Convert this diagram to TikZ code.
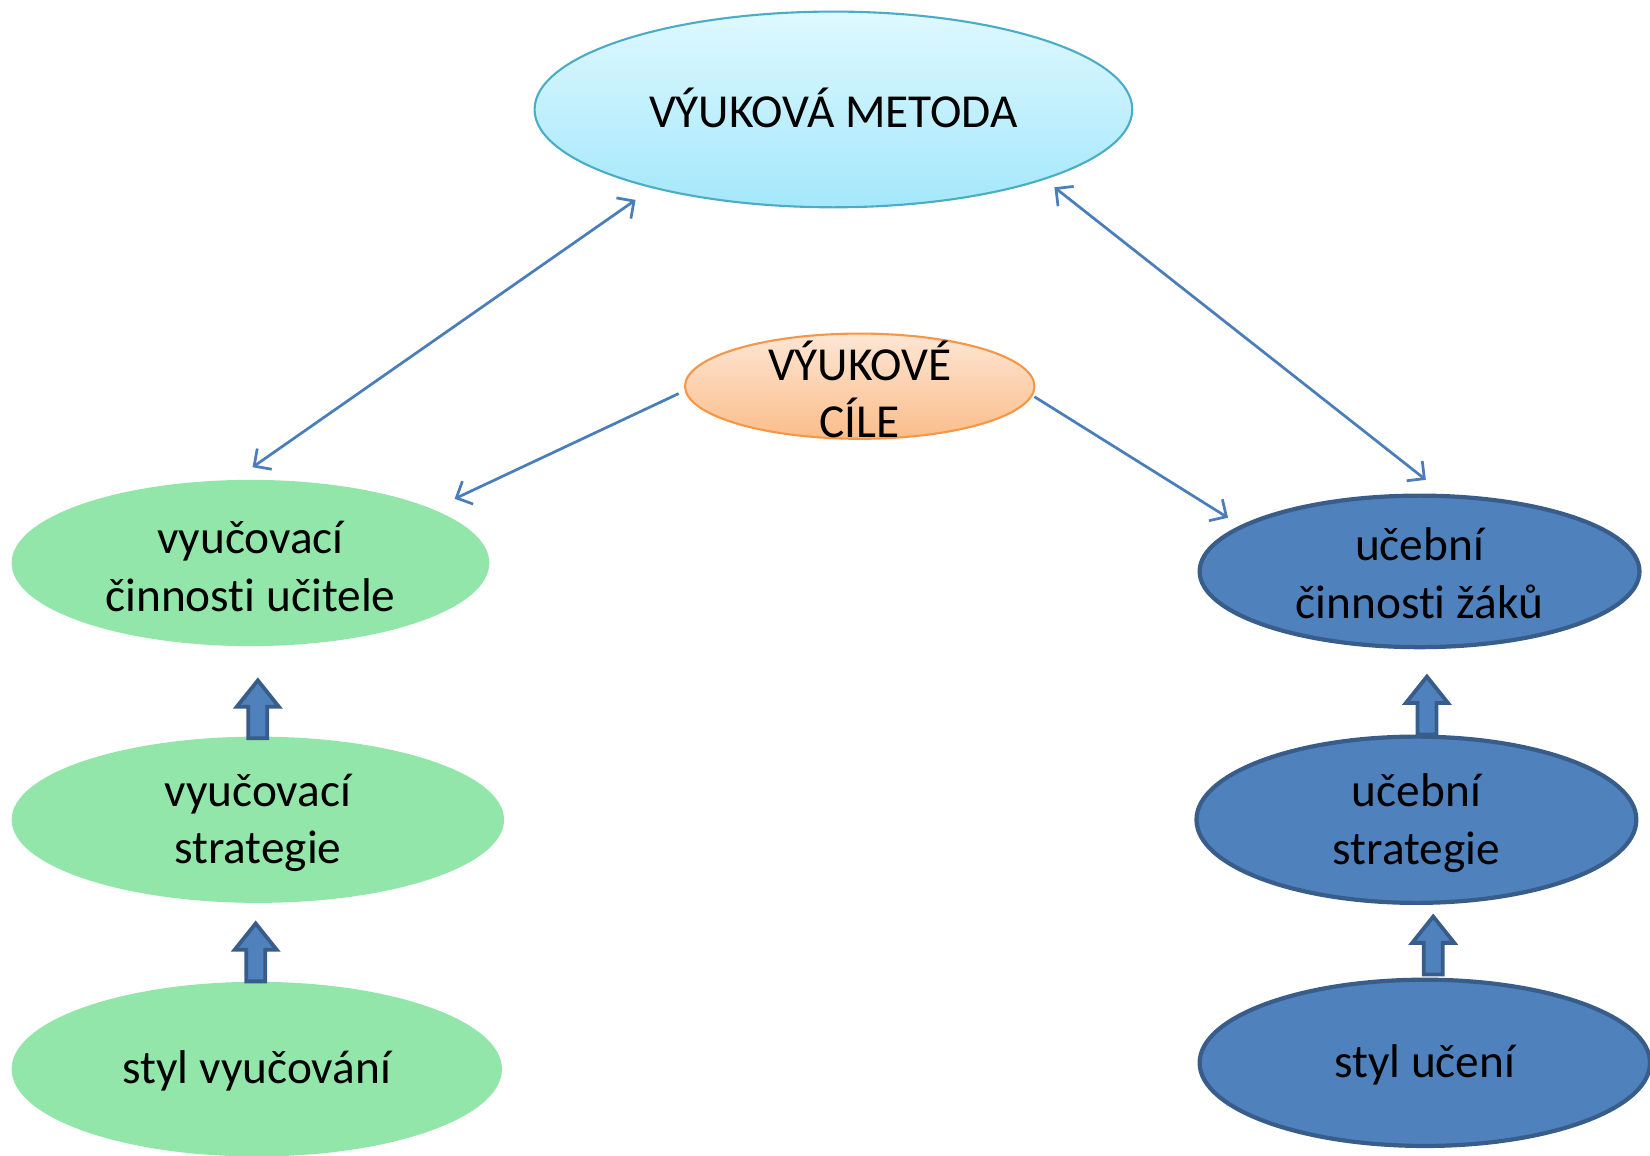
\documentclass[tikz,border=0pt]{standalone}
\usepackage{fontspec}
\setmainfont{Carlito}[Ligatures=NoCommon]
\usetikzlibrary{arrows.meta,shapes.geometric,calc}
\definecolor{conn}{HTML}{4A7EBB}
\definecolor{greenfill}{HTML}{92E6AA}
\definecolor{bluefill}{HTML}{4F81BD}
\definecolor{blueline}{HTML}{385D8A}
\definecolor{cyantop}{HTML}{DFF8FE}
\definecolor{cyanbot}{HTML}{A4E8FB}
\definecolor{cyanline}{HTML}{4BACC6}
\definecolor{orangetop}{HTML}{FDE6D4}
\definecolor{orangebot}{HTML}{FBBD8A}
\definecolor{orangeline}{HTML}{F79646}
\newcommand\blockup[3]{%
  \draw[barrow] ($(#1.north)+(#2-9,#3)$) -- ++(0,-30) -- ++(-11,0) -- ++(20,-25)
    -- ++(20,25) -- ++(-11,0) -- ++(0,30) -- cycle;}
\begin{document}
\begin{tikzpicture}[x=0.5pt,y=-0.5pt,
  txt/.style={font=\fontsize{22.5}{27.5}\selectfont, align=center, text=black},
  ell/.style={ellipse, inner sep=0pt, txt},
  topell/.style={ell, draw=cyanline, line width=1pt, top color=cyantop, bottom color=cyanbot},
  goalell/.style={ell, draw=orangeline, line width=1pt, top color=orangetop, bottom color=orangebot},
  greenell/.style={ell, fill=greenfill},
  blueell/.style={ell, fill=bluefill, draw=blueline, line width=2pt},
  link/.style={draw=conn, line width=1.3pt, {Straight Barb[length=6pt,width=12pt]}-{Straight Barb[length=6pt,width=12pt]}},
  onelink/.style={draw=conn, line width=1.3pt, -{Straight Barb[length=6pt,width=12pt]}},
  barrow/.style={fill=bluefill, draw=blueline, line width=1.8pt, line join=miter}]
\useasboundingbox (0,0) rectangle (1568,1097.6);

\node[topell, minimum width=284pt, minimum height=93pt] (top) at (792,104) {};
\node[txt] (toptxt) at (792,103) {VÝUKOVÁ METODA};
\node[goalell, minimum width=166pt, minimum height=50pt] (goal) at (817,367) {};
\node[txt] (goaltxt) at (817,370) {VÝUKOVÉ\\CÍLE};

\node[greenell, minimum width=227pt, minimum height=79pt] (l1) at (238,535) {};
\node[txt] (l1txt) at (238,538) {vyučovací\\činnosti učitele};
\node[greenell, minimum width=234pt, minimum height=79pt] (l2) at (245,779) {};
\node[txt] (l2txt) at (245,782) {vyučovací\\strategie};
\node[greenell, minimum width=233pt, minimum height=83pt] (l3) at (244,1016) {};
\node[txt] (l3txt) at (244,1018) {styl vyučování};

\node[blueell, minimum width=209pt, minimum height=72pt] (r1) at (1349,543) {};
\node[txt] (r1txt) at (1349,545) {učební\\činnosti žáků};
\node[blueell, minimum width=209pt, minimum height=79pt] (r2) at (1346,779) {};
\node[txt] (r2txt) at (1346,782) {učební\\strategie};
\node[blueell, minimum width=214pt, minimum height=79pt] (r3) at (1354,1010) {};
\node[txt] (r3txt) at (1354,1012) {styl učení};

\coordinate (a1s) at (240,444);
\coordinate (a1e) at (604,190);
\coordinate (a2s) at (1002,178);
\coordinate (a2e) at (1355,456);
\coordinate (g1s) at (645,374);
\coordinate (g1e) at (432,474);
\coordinate (g2s) at (983,377);
\coordinate (g2e) at (1167,492);
\draw[link] (a1s) -- (a1e);
\draw[link] (a2s) -- (a2e);
\draw[onelink] (g1s) -- (g1e);
\draw[onelink] (g2s) -- (g2e);

\blockup{l2}{0}{2}
\blockup{l3}{-1}{0}
\blockup{r2}{10}{0}
\blockup{r3}{8}{-3}
\end{tikzpicture}
\end{document}
